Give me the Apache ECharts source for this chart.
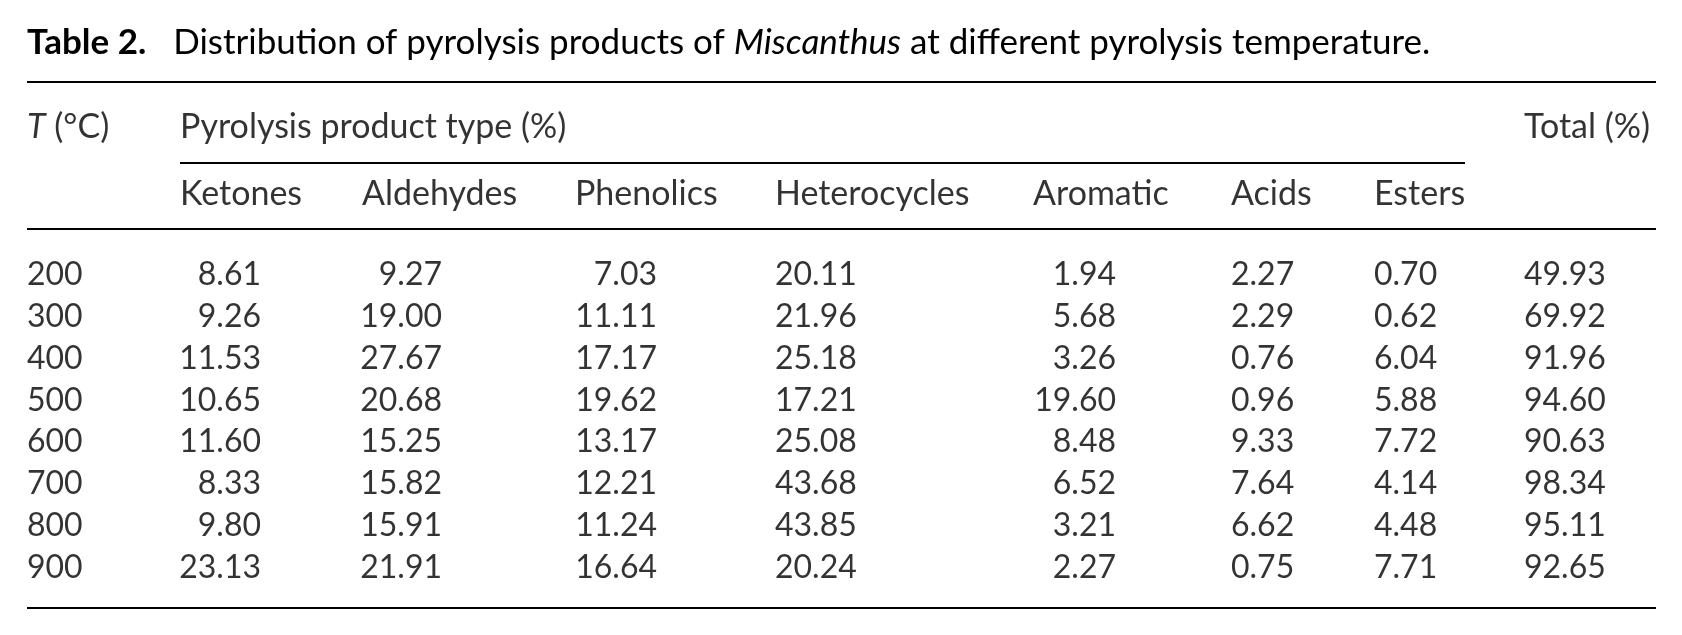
<!DOCTYPE html>
<html>
<head>
<meta charset="utf-8">
<script src="https://cdn.jsdelivr.net/npm/echarts@6/dist/echarts.min.js"></script>
<style>
html, body { margin: 0; padding: 0; background: #fff; }
#chart { width: 1682px; height: 635px; }
</style>
</head>
<body>
<div id="chart"></div>
<script>
// table values
var temperatures = ['200', '300', '400', '500', '600', '700', '800', '900'];
var productTypes = ['Ketones', 'Aldehydes', 'Phenolics', 'Heterocycles', 'Aromatic', 'Acids', 'Esters'];
var ketones      = [8.61, 9.26, 11.53, 10.65, 11.60, 8.33, 9.80, 23.13];
var aldehydes    = [9.27, 19.00, 27.67, 20.68, 15.25, 15.82, 15.91, 21.91];
var phenolics    = [7.03, 11.11, 17.17, 19.62, 13.17, 12.21, 11.24, 16.64];
var heterocycles = [20.11, 21.96, 25.18, 17.21, 25.08, 43.68, 43.85, 20.24];
var aromatic     = [1.94, 5.68, 3.26, 19.60, 8.48, 6.52, 3.21, 2.27];
var acids        = [2.27, 2.29, 0.76, 0.96, 9.33, 7.64, 6.62, 0.75];
var esters       = [0.70, 0.62, 6.04, 5.88, 7.72, 4.14, 4.48, 7.71];
var totals       = [49.93, 69.92, 91.96, 94.60, 90.63, 98.34, 95.11, 92.65];

var productColumns = [ketones, aldehydes, phenolics, heterocycles, aromatic, acids, esters];

// column layout (x in page pixels, the x axis runs 0..1682)
var HEAD_X = [27, 180, 362, 575, 775, 1033, 1231, 1374, 1524];
var CELL_X = [27, 261, 442, 657, 775, 1116, 1231, 1374, 1524];
var CELL_ALIGN = ['left', 'right', 'right', 'right', 'left', 'right', 'left', 'left', 'left'];

var FONT = 'Lato';
var FS_TITLE = 35;
var FS_HEAD = 34;
var FS_BODY = 32;
var INK = '#000';

var headRows = ['group', 'type'];

var headData = [];
headData.push({ value: [HEAD_X[0], 'group'], text: '{i|T} (°C)' });
headData.push({ value: [HEAD_X[1], 'group'], text: 'Pyrolysis product type (%)' });
headData.push({ value: [HEAD_X[8], 'group'], text: 'Total (%)' });
productTypes.forEach(function (name, k) {
    headData.push({ value: [HEAD_X[k + 1], 'type'], text: name });
});

var bodyData = [];
temperatures.forEach(function (t, r) {
    bodyData.push({ value: [CELL_X[0], t], text: t, label: { align: CELL_ALIGN[0] } });
    productColumns.forEach(function (col, k) {
        bodyData.push({ value: [CELL_X[k + 1], t], text: col[r].toFixed(2), label: { align: CELL_ALIGN[k + 1] } });
    });
    bodyData.push({ value: [CELL_X[8], t], text: totals[r].toFixed(2), label: { align: CELL_ALIGN[8] } });
});

function textLabel(fs) {
    return {
        show: true,
        position: 'inside',
        align: 'left',
        verticalAlign: 'middle',
        fontFamily: FONT,
        fontSize: fs,
        color: INK,
        formatter: function (p) { return p.data.text; },
        rich: {
            i: { fontFamily: FONT, fontSize: fs, fontStyle: 'italic', color: INK }
        }
    };
}

function rule(x1, y, x2) {
    return {
        type: 'line',
        shape: { x1: x1, y1: y, x2: x2, y2: y },
        style: { stroke: INK, lineWidth: 2 }
    };
}

var hiddenValueX = function (gi) {
    return { type: 'value', gridIndex: gi, min: 0, max: 1682, show: false };
};

var option = {
    animation: false,
    backgroundColor: '#fff',
    title: {
        left: 27,
        top: 25,
        padding: 0,
        text: '{b|Table 2.}   Distribution of pyrolysis products of {i|Miscanthus} at different pyrolysis temperature.',
        textStyle: {
            fontFamily: FONT,
            fontSize: FS_TITLE,
            fontWeight: 'normal',
            color: INK,
            rich: {
                b: { fontFamily: FONT, fontSize: FS_TITLE, fontWeight: 'bold', color: INK },
                i: { fontFamily: FONT, fontSize: FS_TITLE, fontStyle: 'italic', color: INK }
            }
        }
    },
    grid: [
        { left: 0, right: 0, top: 93.5, height: 134 },
        { left: 0, right: 0, top: 254, height: 334.4 }
    ],
    xAxis: [hiddenValueX(0), hiddenValueX(1)],
    yAxis: [
        { type: 'category', gridIndex: 0, data: headRows, inverse: true, show: false },
        { type: 'category', gridIndex: 1, data: temperatures, inverse: true, show: false }
    ],
    series: [
        {
            type: 'scatter',
            xAxisIndex: 0,
            yAxisIndex: 0,
            symbolSize: 0,
            silent: true,
            label: textLabel(FS_HEAD),
            data: headData
        },
        {
            type: 'scatter',
            xAxisIndex: 1,
            yAxisIndex: 1,
            symbolSize: 0,
            silent: true,
            label: textLabel(FS_BODY),
            data: bodyData
        }
    ],
    graphic: [
        rule(27, 82, 1656),
        rule(180, 163, 1465),
        rule(27, 229, 1656),
        rule(27, 608, 1656)
    ]
};

var myChart = echarts.init(document.getElementById('chart'));
myChart.setOption(option);
</script>
</body>
</html>
